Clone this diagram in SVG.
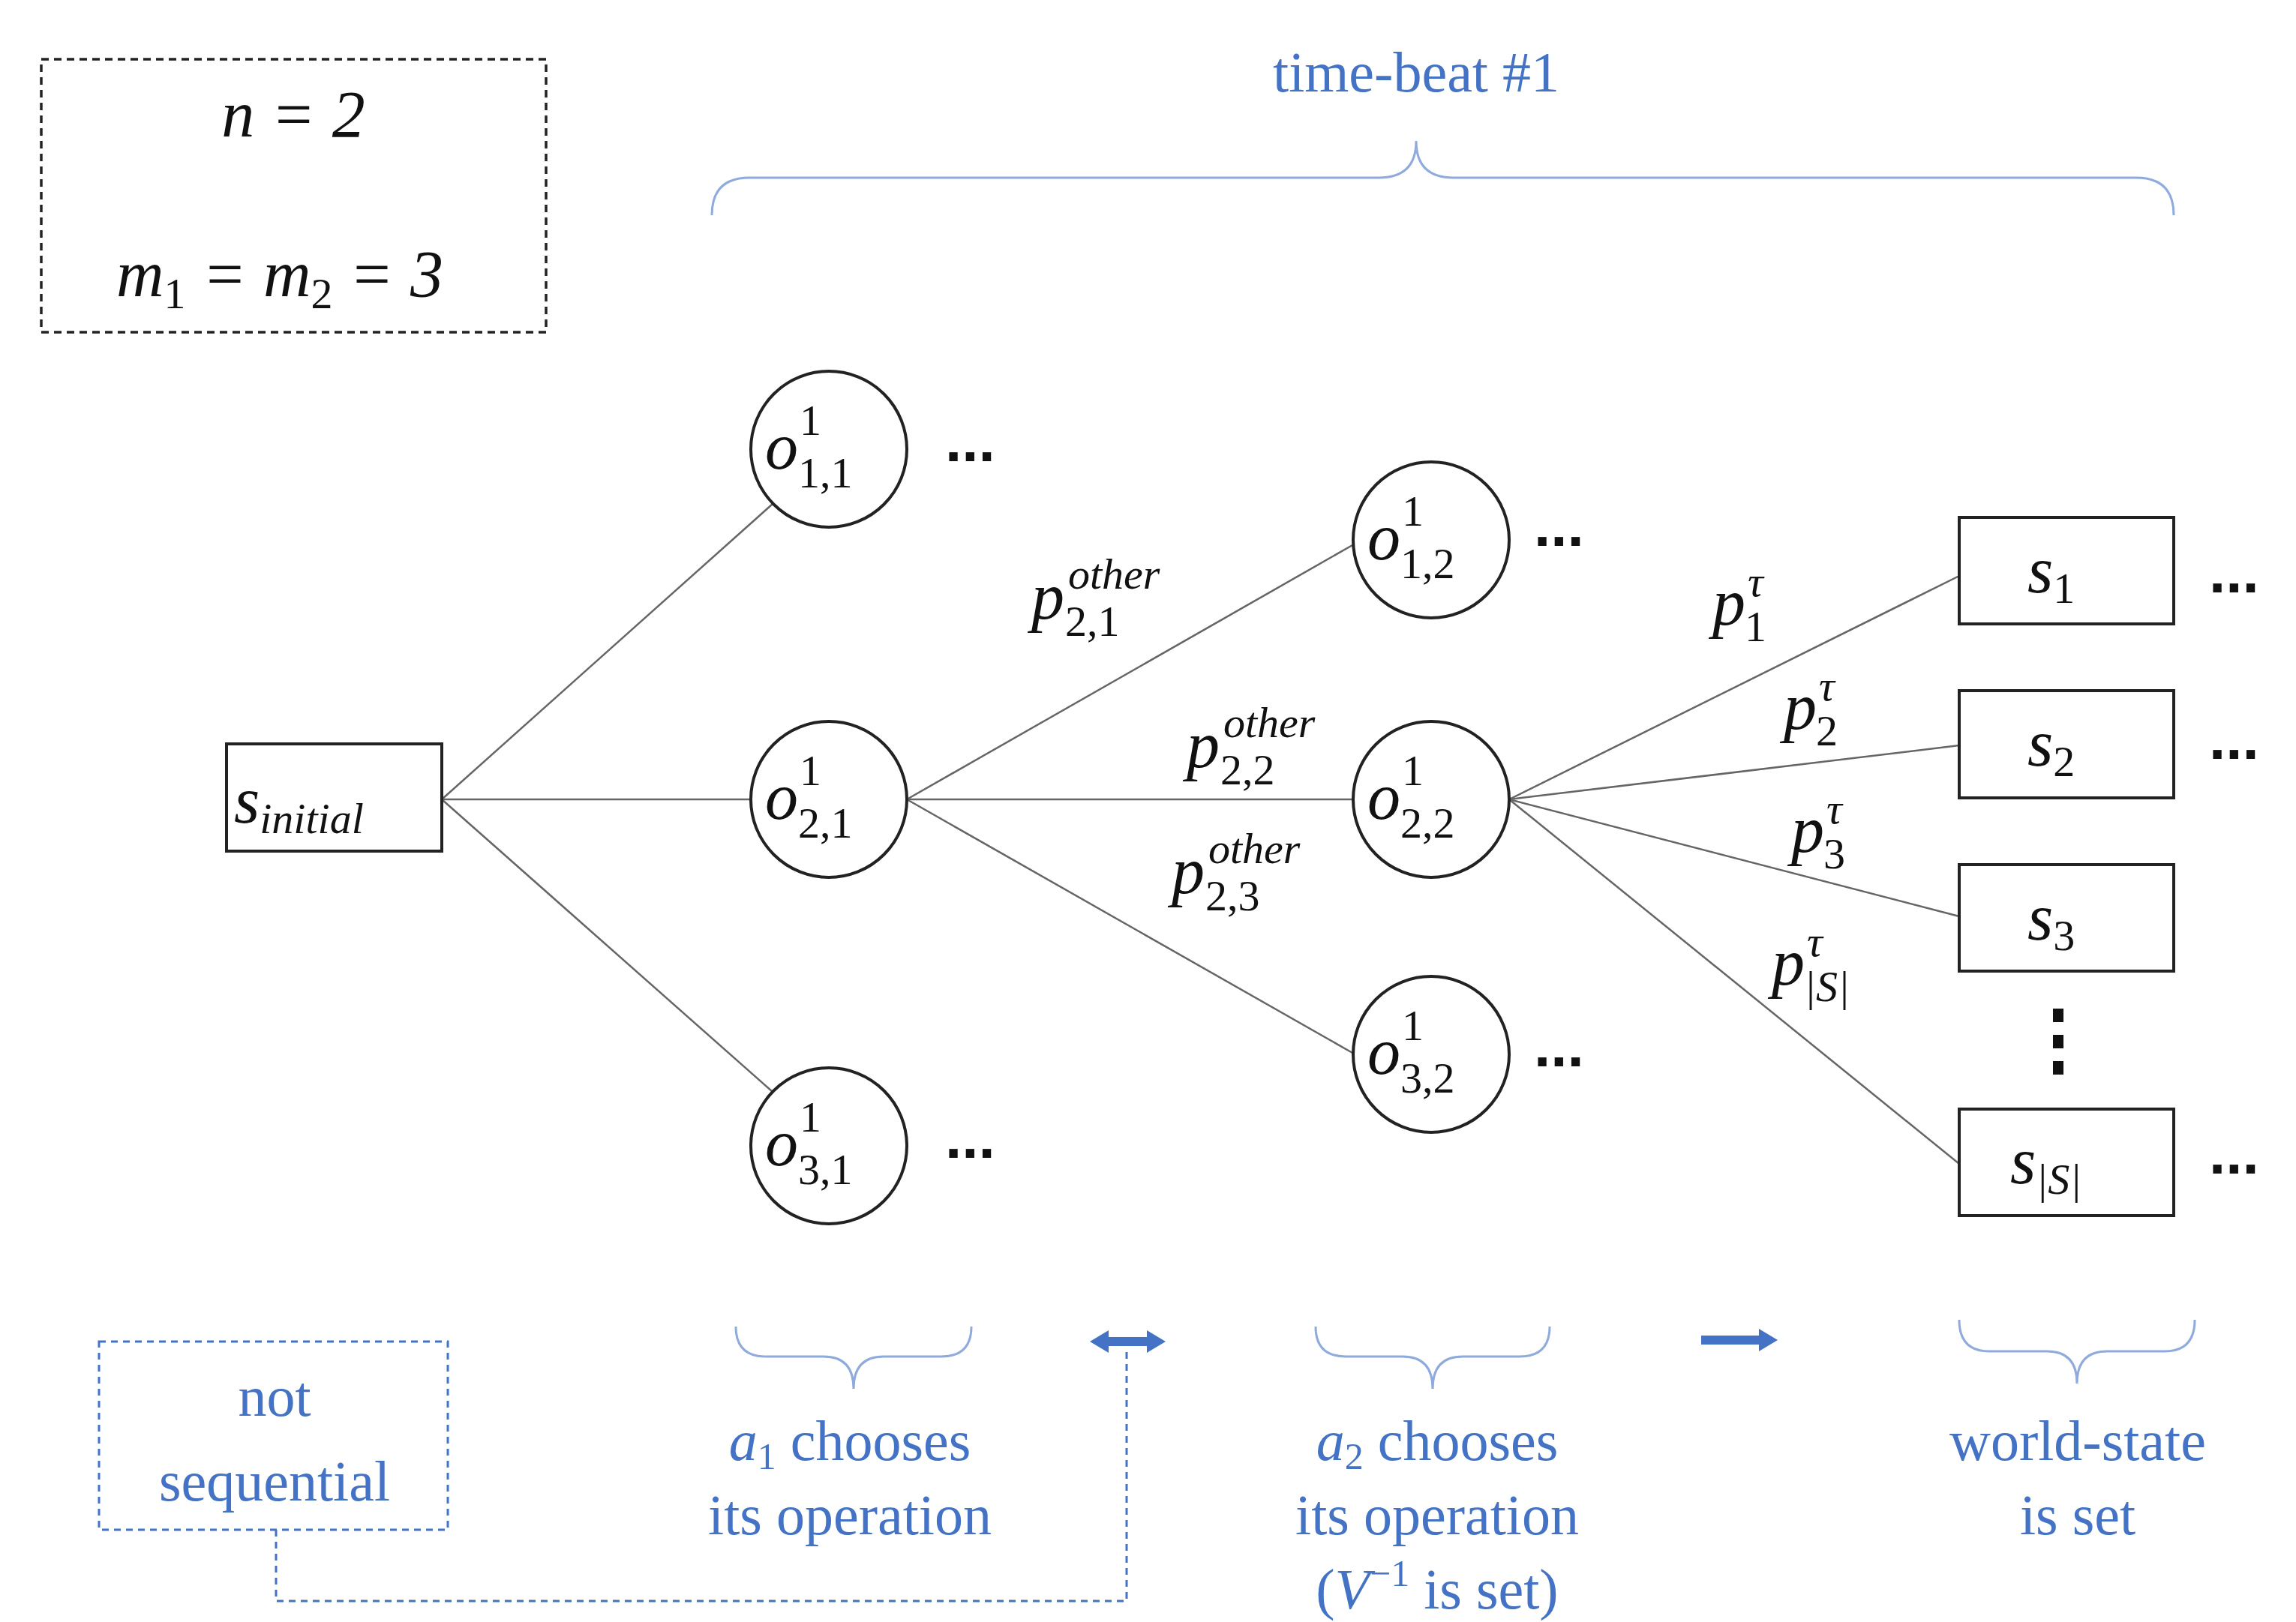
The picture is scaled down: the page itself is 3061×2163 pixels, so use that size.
<svg xmlns="http://www.w3.org/2000/svg" width="3061" height="2163" viewBox="0 0 3061 2163">
<style>
.bg{fill:#fff}
.node{fill:#fff;stroke:#222;stroke-width:4}
.edge{stroke:#666;stroke-width:2.5;fill:none}
.m{font-family:"Liberation Serif","DejaVu Serif",serif;font-style:italic;fill:#111;font-size:88px}
.sub{font-size:58px;font-style:normal}
.subi{font-size:58px}
.s{font-family:"Liberation Serif","DejaVu Serif",serif;font-style:italic;fill:#111;font-size:58px}
.sn{font-family:"Liberation Serif","DejaVu Serif",serif;fill:#111;font-size:58px}
.dots{font-family:"Liberation Sans",sans-serif;font-weight:bold;font-size:80px;fill:#111}
.blue{font-family:"Liberation Serif","DejaVu Serif",serif;fill:#4472C4;font-size:76px;text-anchor:middle}
.brace{fill:none;stroke:#8FAADC;stroke-width:3}
.dashb{fill:none;stroke:#4472C4;stroke-width:3;stroke-dasharray:9 7}
</style>
<rect class="bg" width="3061" height="2163"/>
<g id="params">
<rect x="55" y="79" width="673" height="364" fill="none" stroke="#222" stroke-width="3.5" stroke-dasharray="10 7"/>
<text class="m" x="391" y="182" text-anchor="middle" font-size="90">n = 2</text>
<text class="m" x="155" y="395" font-size="90">m<tspan class="sub" dy="16">1</tspan><tspan dy="-16"> = m</tspan><tspan class="sub" dy="16">2</tspan><tspan dy="-16"> = 3</tspan></text>
</g>
<g id="connectors">
<line class="edge" x1="589" y1="1066" x2="1030" y2="672"/>
<line class="edge" x1="589" y1="1066" x2="1001" y2="1066"/>
<line class="edge" x1="589" y1="1066" x2="1030" y2="1456"/>
<line class="edge" x1="1209" y1="1066" x2="1803" y2="727"/>
<line class="edge" x1="1209" y1="1066" x2="1804" y2="1066"/>
<line class="edge" x1="1209" y1="1066" x2="1803" y2="1404"/>
<line class="edge" x1="2012" y1="1066" x2="2612" y2="768"/>
<line class="edge" x1="2012" y1="1066" x2="2612" y2="994"/>
<line class="edge" x1="2012" y1="1066" x2="2612" y2="1222"/>
<line class="edge" x1="2012" y1="1066" x2="2612" y2="1552"/>
</g>
<g id="edge-labels">
<text class="m" x="1375" y="825">p</text><text class="s" x="1424" y="785">other</text><text class="sn" x="1420" y="848">2,1</text>
<text class="m" x="1582" y="1023">p</text><text class="s" x="1631" y="983">other</text><text class="sn" x="1627" y="1046">2,2</text>
<text class="m" x="1562" y="1191">p</text><text class="s" x="1611" y="1151">other</text><text class="sn" x="1607" y="1214">2,3</text>
<text class="m" x="2283" y="833">p</text><text class="s" x="2330" y="795">τ</text><text class="sn" x="2326" y="855">1</text>
<text class="m" x="2378" y="972">p</text><text class="s" x="2425" y="934">τ</text><text class="sn" x="2421" y="994">2</text>
<text class="m" x="2388" y="1136">p</text><text class="s" x="2435" y="1098">τ</text><text class="sn" x="2431" y="1158">3</text>
<text class="m" x="2362" y="1313">p</text><text class="s" x="2409" y="1275">τ</text><text class="s" x="2405" y="1335">|S|</text>
</g>
<g id="s_initial">
<rect class="node" x="302" y="992" width="287" height="143"/>
<text class="m" x="312" y="1097">s<tspan class="subi" dy="14">initial</tspan></text>
</g>
<g id="o11"><circle class="node" cx="1105" cy="599" r="104"/><text class="m" x="1020" y="625">o</text><text class="sn" x="1066" y="580">1</text><text class="sn" x="1064" y="650">1,1</text></g>
<g id="o21"><circle class="node" cx="1105" cy="1066" r="104"/><text class="m" x="1020" y="1092">o</text><text class="sn" x="1066" y="1047">1</text><text class="sn" x="1064" y="1117">2,1</text></g>
<g id="o31"><circle class="node" cx="1105" cy="1528" r="104"/><text class="m" x="1020" y="1554">o</text><text class="sn" x="1066" y="1509">1</text><text class="sn" x="1064" y="1579">3,1</text></g>
<g id="o12"><circle class="node" cx="1908" cy="720" r="104"/><text class="m" x="1823" y="746">o</text><text class="sn" x="1869" y="701">1</text><text class="sn" x="1867" y="771">1,2</text></g>
<g id="o22"><circle class="node" cx="1908" cy="1066" r="104"/><text class="m" x="1823" y="1092">o</text><text class="sn" x="1869" y="1047">1</text><text class="sn" x="1867" y="1117">2,2</text></g>
<g id="o32"><circle class="node" cx="1908" cy="1406" r="104"/><text class="m" x="1823" y="1432">o</text><text class="sn" x="1869" y="1387">1</text><text class="sn" x="1867" y="1457">3,2</text></g>
<g id="s1"><rect class="node" x="2612" y="690" width="286" height="142"/><text class="m" x="2703" y="790">s<tspan class="sub" dy="14">1</tspan></text></g>
<g id="s2"><rect class="node" x="2612" y="921" width="286" height="143"/><text class="m" x="2703" y="1021">s<tspan class="sub" dy="14">2</tspan></text></g>
<g id="s3"><rect class="node" x="2612" y="1153" width="286" height="142"/><text class="m" x="2703" y="1253">s<tspan class="sub" dy="14">3</tspan></text></g>
<g id="sS"><rect class="node" x="2612" y="1479" width="286" height="142"/><text class="m" x="2680" y="1578">s<tspan class="subi" dy="14">|S|</tspan></text></g>
<g id="dots">
<text class="dots" x="1260" y="615">...</text>
<text class="dots" x="1260" y="1544">...</text>
<text class="dots" x="2045" y="728">...</text>
<text class="dots" x="2045" y="1422">...</text>
<text class="dots" x="2945" y="790">...</text>
<text class="dots" x="2945" y="1012">...</text>
<text class="dots" x="2945" y="1565">...</text>
<rect x="2737" y="1345" width="14" height="18" fill="#111"/>
<rect x="2737" y="1380" width="14" height="18" fill="#111"/>
<rect x="2737" y="1415" width="14" height="18" fill="#111"/>
</g>
<g id="time-beat">
<text class="blue" x="1888" y="122">time-beat #1</text>
<path class="brace" d="M949,287 Q949,237 999,237 L1838,237 Q1888,237 1888,188 Q1888,237 1938,237 L2848,237 Q2898,237 2898,287"/>
</g>
<g id="a1">
<path class="brace" d="M981,1769 Q981,1809 1021,1809 L1098,1809 Q1138,1809 1138,1852 Q1138,1809 1178,1809 L1255,1809 Q1295,1809 1295,1769"/>
<text class="blue" x="1133" y="1947"><tspan font-style="italic">a</tspan><tspan font-size="50" dy="12">1</tspan><tspan dy="-12"> chooses</tspan></text>
<text class="blue" x="1133" y="2046">its operation</text>
</g>
<g id="a2">
<path class="brace" d="M1754,1769 Q1754,1809 1794,1809 L1870,1809 Q1910,1809 1910,1852 Q1910,1809 1950,1809 L2026,1809 Q2066,1809 2066,1769"/>
<text class="blue" x="1916" y="1947"><tspan font-style="italic">a</tspan><tspan font-size="50" dy="12">2</tspan><tspan dy="-12"> chooses</tspan></text>
<text class="blue" x="1916" y="2046">its operation</text>
<text class="blue" x="1916" y="2145">(<tspan font-style="italic">V</tspan><tspan font-size="50" dy="-30">−1</tspan><tspan dy="30"> is set)</tspan></text>
</g>
<g id="world">
<path class="brace" d="M2612,1760 Q2612,1802 2652,1802 L2729,1802 Q2769,1802 2769,1845 Q2769,1802 2809,1802 L2886,1802 Q2926,1802 2926,1760"/>
<text class="blue" x="2770" y="1947">world-state</text>
<text class="blue" x="2770" y="2046">is set</text>
</g>
<g id="not-sequential">
<rect class="dashb" x="132" y="1789" width="465" height="251"/>
<text class="blue" x="366" y="1888">not</text>
<text class="blue" x="366" y="2001">sequential</text>
</g>
<g id="arrows">
<path d="M1453,1789 L1478,1774 L1478,1783 L1529,1783 L1529,1774 L1554,1789 L1529,1804 L1529,1795 L1478,1795 L1478,1804 Z" fill="#4472C4"/>
<path d="M2268,1781 L2345,1781 L2345,1772 L2370,1787 L2345,1802 L2345,1793 L2268,1793 Z" fill="#4472C4"/>
<path class="dashb" d="M368,2040 L368,2135 L1502,2135 L1502,1803"/>
</g>
</svg>
